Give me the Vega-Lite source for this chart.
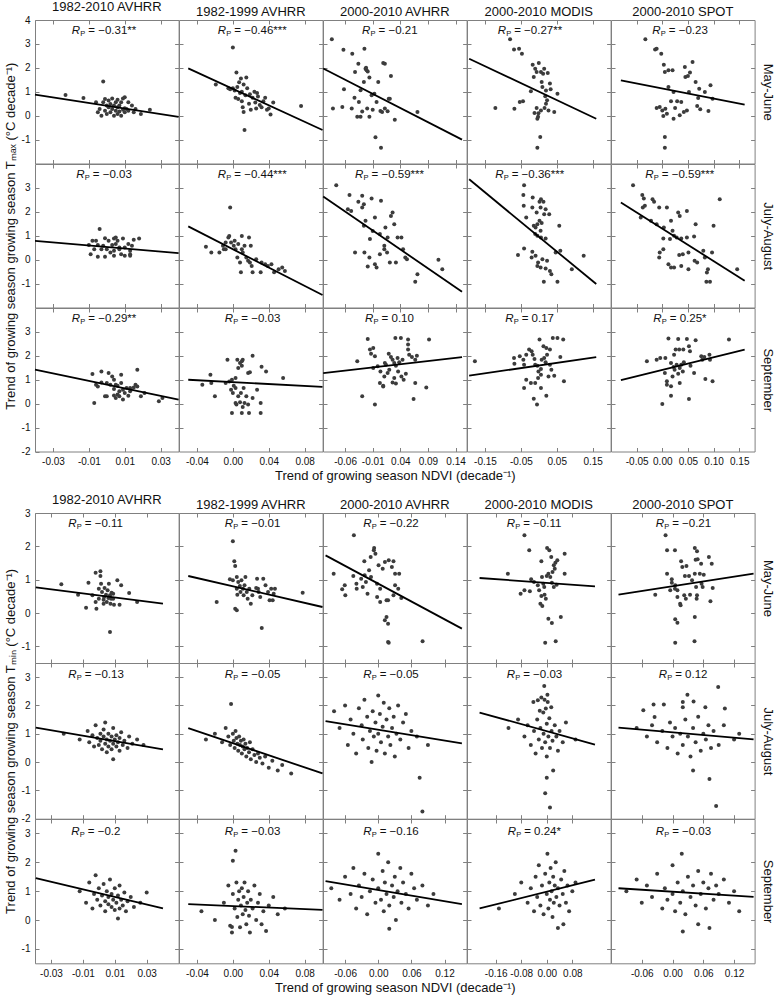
{
"$schema":"https://vega.github.io/schema/vega-lite/v6.json",
"padding":{"left":3,"top":0,"right":2,"bottom":2},
"background":"white",
"spacing":10,
"resolve":{"scale":{"x":"independent","y":"independent"}},
"vconcat":[
{"concat":[
{"data":{"name":"T11"},"width":143.6,"height":143.5,"title":"1982-2010 AVHRR","layer":[{"mark":"circle","encoding":{"x":{"field":"x","type":"quantitative","scale":{"domain":[-0.04,0.04]},"axis":{"values":[-0.03,-0.01,0.01,0.03],"labels":false,"title":null}},"y":{"field":"y","type":"quantitative","scale":{"domain":[-2,4]},"axis":{"values":[-1,0,1,2,3,4],"title":null}}}},{"mark":"rule","encoding":{"x":{"field":"x1","type":"quantitative","axis":{"orient":"top","values":[-0.03,-0.01,0.01,0.03],"labels":false,"title":null}},"x2":{"field":"x2"},"y":{"field":"y1","type":"quantitative","axis":{"orient":"right","values":[-1,0,1,2,3],"labels":false,"title":null}},"y2":{"field":"y2"}}},{"transform":[{"filter":"datum.r"}],"encoding":{"x":{"datum":0,"axis":null},"y":{"datum":3.55,"axis":null}},"layer":[{"mark":{"type":"text","style":"rr","text":"R","dx":-35}},{"mark":{"type":"text","style":"rp","text":"P","dx":-26.5}},{"mark":{"type":"text","style":"rv","dx":-18.5},"encoding":{"text":{"field":"r"}}}]}],"resolve":{"axis":{"x":"independent","y":"independent"}}},
{"data":{"name":"T12"},"width":143.6,"height":143.5,"title":"1982-1999 AVHRR","layer":[{"mark":"circle","encoding":{"x":{"field":"x","type":"quantitative","scale":{"domain":[-0.0497,0.0999]},"axis":{"values":[-0.04,0,0.04,0.08],"labels":false,"title":null}},"y":{"field":"y","type":"quantitative","scale":{"domain":[-2,4]},"axis":{"values":[-1,0,1,2,3],"labels":false,"title":null}}}},{"mark":"rule","encoding":{"x":{"field":"x1","type":"quantitative","axis":{"orient":"top","values":[-0.04,0,0.04,0.08],"labels":false,"title":null}},"x2":{"field":"x2"},"y":{"field":"y1","type":"quantitative","axis":{"orient":"right","values":[-1,0,1,2,3],"labels":false,"title":null}},"y2":{"field":"y2"}}},{"transform":[{"filter":"datum.r"}],"encoding":{"x":{"datum":0.025,"axis":null},"y":{"datum":3.55,"axis":null}},"layer":[{"mark":{"type":"text","style":"rr","text":"R","dx":-37.5}},{"mark":{"type":"text","style":"rp","text":"P","dx":-29}},{"mark":{"type":"text","style":"rv","dx":-21},"encoding":{"text":{"field":"r"}}}]}],"resolve":{"axis":{"x":"independent","y":"independent"}}},
{"data":{"name":"T13"},"width":143.6,"height":143.5,"title":"2000-2010 AVHRR","layer":[{"mark":"circle","encoding":{"x":{"field":"x","type":"quantitative","scale":{"domain":[-0.0996,0.1517]},"axis":{"values":[-0.06,-0.01,0.04,0.09,0.14],"labels":false,"title":null}},"y":{"field":"y","type":"quantitative","scale":{"domain":[-2,4]},"axis":{"values":[-1,0,1,2,3],"labels":false,"title":null}}}},{"mark":"rule","encoding":{"x":{"field":"x1","type":"quantitative","axis":{"orient":"top","values":[-0.06,-0.01,0.04,0.09,0.14],"labels":false,"title":null}},"x2":{"field":"x2"},"y":{"field":"y1","type":"quantitative","axis":{"orient":"right","values":[-1,0,1,2,3],"labels":false,"title":null}},"y2":{"field":"y2"}}},{"transform":[{"filter":"datum.r"}],"encoding":{"x":{"datum":0.026,"axis":null},"y":{"datum":3.55,"axis":null}},"layer":[{"mark":{"type":"text","style":"rr","text":"R","dx":-30.5}},{"mark":{"type":"text","style":"rp","text":"P","dx":-22}},{"mark":{"type":"text","style":"rv","dx":-14},"encoding":{"text":{"field":"r"}}}]}],"resolve":{"axis":{"x":"independent","y":"independent"}}},
{"data":{"name":"T14"},"width":143.6,"height":143.5,"title":"2000-2010 MODIS","layer":[{"mark":"circle","encoding":{"x":{"field":"x","type":"quantitative","scale":{"domain":[-0.194,0.16]},"axis":{"values":[-0.15,-0.05,0.05,0.15],"labels":false,"title":null}},"y":{"field":"y","type":"quantitative","scale":{"domain":[-2,4]},"axis":{"values":[-1,0,1,2,3],"labels":false,"title":null}}}},{"mark":"rule","encoding":{"x":{"field":"x1","type":"quantitative","axis":{"orient":"top","values":[-0.15,-0.05,0.05,0.15],"labels":false,"title":null}},"x2":{"field":"x2"},"y":{"field":"y1","type":"quantitative","axis":{"orient":"right","values":[-1,0,1,2,3],"labels":false,"title":null}},"y2":{"field":"y2"}}},{"transform":[{"filter":"datum.r"}],"encoding":{"x":{"datum":-0.017,"axis":null},"y":{"datum":3.55,"axis":null}},"layer":[{"mark":{"type":"text","style":"rr","text":"R","dx":-35}},{"mark":{"type":"text","style":"rp","text":"P","dx":-26.5}},{"mark":{"type":"text","style":"rv","dx":-18.5},"encoding":{"text":{"field":"r"}}}]}],"resolve":{"axis":{"x":"independent","y":"independent"}}},
{"data":{"name":"T15"},"width":143.6,"height":143.5,"title":"2000-2010 SPOT","layer":[{"mark":"circle","encoding":{"x":{"field":"x","type":"quantitative","scale":{"domain":[-0.0807,0.1606]},"axis":{"values":[-0.05,0,0.05,0.1,0.15],"labels":false,"title":null}},"y":{"field":"y","type":"quantitative","scale":{"domain":[-2,4]},"axis":{"values":[-1,0,1,2,3],"labels":false,"title":null}}}},{"mark":"rule","encoding":{"x":{"field":"x1","type":"quantitative","axis":{"orient":"top","values":[-0.05,0,0.05,0.1,0.15],"labels":false,"title":null}},"x2":{"field":"x2"},"y":{"field":"y1","type":"quantitative","axis":{"orient":"right","values":[-1,0,1,2,3],"labels":false,"title":"May-June","titlePadding":5}},"y2":{"field":"y2"}}},{"transform":[{"filter":"datum.r"}],"encoding":{"x":{"datum":0.04,"axis":null},"y":{"datum":3.55,"axis":null}},"layer":[{"mark":{"type":"text","style":"rr","text":"R","dx":-30.5}},{"mark":{"type":"text","style":"rp","text":"P","dx":-22}},{"mark":{"type":"text","style":"rv","dx":-14},"encoding":{"text":{"field":"r"}}}]}],"resolve":{"axis":{"x":"independent","y":"independent"}}},

{"data":{"name":"T21"},"width":143.6,"height":143.5,"layer":[{"mark":"circle","encoding":{"x":{"field":"x","type":"quantitative","scale":{"domain":[-0.04,0.04]},"axis":{"values":[-0.03,-0.01,0.01,0.03],"labels":false,"title":null}},"y":{"field":"y","type":"quantitative","scale":{"domain":[-2,4]},"axis":{"values":[-1,0,1,2,3],"title":"Trend of growing season growing season Tₘₐₓ (°C decade⁻¹)","titlePadding":4}}}},{"mark":"rule","encoding":{"x":{"field":"x1","type":"quantitative","axis":{"orient":"top","values":[-0.03,-0.01,0.01,0.03],"labels":false,"title":null}},"x2":{"field":"x2"},"y":{"field":"y1","type":"quantitative","axis":{"orient":"right","values":[-1,0,1,2,3],"labels":false,"title":null}},"y2":{"field":"y2"}}},{"transform":[{"filter":"datum.r"}],"encoding":{"x":{"datum":0,"axis":null},"y":{"datum":3.55,"axis":null}},"layer":[{"mark":{"type":"text","style":"rr","text":"R","dx":-30.5}},{"mark":{"type":"text","style":"rp","text":"P","dx":-22}},{"mark":{"type":"text","style":"rv","dx":-14},"encoding":{"text":{"field":"r"}}}]}],"resolve":{"axis":{"x":"independent","y":"independent"}}},
{"data":{"name":"T22"},"width":143.6,"height":143.5,"layer":[{"mark":"circle","encoding":{"x":{"field":"x","type":"quantitative","scale":{"domain":[-0.0497,0.0999]},"axis":{"values":[-0.04,0,0.04,0.08],"labels":false,"title":null}},"y":{"field":"y","type":"quantitative","scale":{"domain":[-2,4]},"axis":{"values":[-1,0,1,2,3],"labels":false,"title":null}}}},{"mark":"rule","encoding":{"x":{"field":"x1","type":"quantitative","axis":{"orient":"top","values":[-0.04,0,0.04,0.08],"labels":false,"title":null}},"x2":{"field":"x2"},"y":{"field":"y1","type":"quantitative","axis":{"orient":"right","values":[-1,0,1,2,3],"labels":false,"title":null}},"y2":{"field":"y2"}}},{"transform":[{"filter":"datum.r"}],"encoding":{"x":{"datum":0.025,"axis":null},"y":{"datum":3.55,"axis":null}},"layer":[{"mark":{"type":"text","style":"rr","text":"R","dx":-37.5}},{"mark":{"type":"text","style":"rp","text":"P","dx":-29}},{"mark":{"type":"text","style":"rv","dx":-21},"encoding":{"text":{"field":"r"}}}]}],"resolve":{"axis":{"x":"independent","y":"independent"}}},
{"data":{"name":"T23"},"width":143.6,"height":143.5,"layer":[{"mark":"circle","encoding":{"x":{"field":"x","type":"quantitative","scale":{"domain":[-0.0996,0.1517]},"axis":{"values":[-0.06,-0.01,0.04,0.09,0.14],"labels":false,"title":null}},"y":{"field":"y","type":"quantitative","scale":{"domain":[-2,4]},"axis":{"values":[-1,0,1,2,3],"labels":false,"title":null}}}},{"mark":"rule","encoding":{"x":{"field":"x1","type":"quantitative","axis":{"orient":"top","values":[-0.06,-0.01,0.04,0.09,0.14],"labels":false,"title":null}},"x2":{"field":"x2"},"y":{"field":"y1","type":"quantitative","axis":{"orient":"right","values":[-1,0,1,2,3],"labels":false,"title":null}},"y2":{"field":"y2"}}},{"transform":[{"filter":"datum.r"}],"encoding":{"x":{"datum":0.026,"axis":null},"y":{"datum":3.55,"axis":null}},"layer":[{"mark":{"type":"text","style":"rr","text":"R","dx":-37.5}},{"mark":{"type":"text","style":"rp","text":"P","dx":-29}},{"mark":{"type":"text","style":"rv","dx":-21},"encoding":{"text":{"field":"r"}}}]}],"resolve":{"axis":{"x":"independent","y":"independent"}}},
{"data":{"name":"T24"},"width":143.6,"height":143.5,"layer":[{"mark":"circle","encoding":{"x":{"field":"x","type":"quantitative","scale":{"domain":[-0.194,0.16]},"axis":{"values":[-0.15,-0.05,0.05,0.15],"labels":false,"title":null}},"y":{"field":"y","type":"quantitative","scale":{"domain":[-2,4]},"axis":{"values":[-1,0,1,2,3],"labels":false,"title":null}}}},{"mark":"rule","encoding":{"x":{"field":"x1","type":"quantitative","axis":{"orient":"top","values":[-0.15,-0.05,0.05,0.15],"labels":false,"title":null}},"x2":{"field":"x2"},"y":{"field":"y1","type":"quantitative","axis":{"orient":"right","values":[-1,0,1,2,3],"labels":false,"title":null}},"y2":{"field":"y2"}}},{"transform":[{"filter":"datum.r"}],"encoding":{"x":{"datum":-0.017,"axis":null},"y":{"datum":3.55,"axis":null}},"layer":[{"mark":{"type":"text","style":"rr","text":"R","dx":-37.5}},{"mark":{"type":"text","style":"rp","text":"P","dx":-29}},{"mark":{"type":"text","style":"rv","dx":-21},"encoding":{"text":{"field":"r"}}}]}],"resolve":{"axis":{"x":"independent","y":"independent"}}},
{"data":{"name":"T25"},"width":143.6,"height":143.5,"layer":[{"mark":"circle","encoding":{"x":{"field":"x","type":"quantitative","scale":{"domain":[-0.0807,0.1606]},"axis":{"values":[-0.05,0,0.05,0.1,0.15],"labels":false,"title":null}},"y":{"field":"y","type":"quantitative","scale":{"domain":[-2,4]},"axis":{"values":[-1,0,1,2,3],"labels":false,"title":null}}}},{"mark":"rule","encoding":{"x":{"field":"x1","type":"quantitative","axis":{"orient":"top","values":[-0.05,0,0.05,0.1,0.15],"labels":false,"title":null}},"x2":{"field":"x2"},"y":{"field":"y1","type":"quantitative","axis":{"orient":"right","values":[-1,0,1,2,3],"labels":false,"title":"July-August","titlePadding":5}},"y2":{"field":"y2"}}},{"transform":[{"filter":"datum.r"}],"encoding":{"x":{"datum":0.04,"axis":null},"y":{"datum":3.55,"axis":null}},"layer":[{"mark":{"type":"text","style":"rr","text":"R","dx":-37.5}},{"mark":{"type":"text","style":"rp","text":"P","dx":-29}},{"mark":{"type":"text","style":"rv","dx":-21},"encoding":{"text":{"field":"r"}}}]}],"resolve":{"axis":{"x":"independent","y":"independent"}}},

{"data":{"name":"T31"},"width":143.6,"height":143.5,"layer":[{"mark":"circle","encoding":{"x":{"field":"x","type":"quantitative","scale":{"domain":[-0.04,0.04]},"axis":{"values":[-0.03,-0.01,0.01,0.03],"title":null}},"y":{"field":"y","type":"quantitative","scale":{"domain":[-2,4]},"axis":{"values":[-2,-1,0,1,2,3],"title":null}}}},{"mark":"rule","encoding":{"x":{"field":"x1","type":"quantitative","axis":{"orient":"top","values":[-0.03,-0.01,0.01,0.03],"labels":false,"title":null}},"x2":{"field":"x2"},"y":{"field":"y1","type":"quantitative","axis":{"orient":"right","values":[-1,0,1,2,3],"labels":false,"title":null}},"y2":{"field":"y2"}}},{"transform":[{"filter":"datum.r"}],"encoding":{"x":{"datum":0,"axis":null},"y":{"datum":3.55,"axis":null}},"layer":[{"mark":{"type":"text","style":"rr","text":"R","dx":-35}},{"mark":{"type":"text","style":"rp","text":"P","dx":-26.5}},{"mark":{"type":"text","style":"rv","dx":-18.5},"encoding":{"text":{"field":"r"}}}]}],"resolve":{"axis":{"x":"independent","y":"independent"}}},
{"data":{"name":"T32"},"width":143.6,"height":143.5,"layer":[{"mark":"circle","encoding":{"x":{"field":"x","type":"quantitative","scale":{"domain":[-0.0497,0.0999]},"axis":{"values":[-0.04,0,0.04,0.08],"title":null}},"y":{"field":"y","type":"quantitative","scale":{"domain":[-2,4]},"axis":{"values":[-1,0,1,2,3],"labels":false,"title":null}}}},{"mark":"rule","encoding":{"x":{"field":"x1","type":"quantitative","axis":{"orient":"top","values":[-0.04,0,0.04,0.08],"labels":false,"title":null}},"x2":{"field":"x2"},"y":{"field":"y1","type":"quantitative","axis":{"orient":"right","values":[-1,0,1,2,3],"labels":false,"title":null}},"y2":{"field":"y2"}}},{"transform":[{"filter":"datum.r"}],"encoding":{"x":{"datum":0.025,"axis":null},"y":{"datum":3.55,"axis":null}},"layer":[{"mark":{"type":"text","style":"rr","text":"R","dx":-30.5}},{"mark":{"type":"text","style":"rp","text":"P","dx":-22}},{"mark":{"type":"text","style":"rv","dx":-14},"encoding":{"text":{"field":"r"}}}]}],"resolve":{"axis":{"x":"independent","y":"independent"}}},
{"data":{"name":"T33"},"width":143.6,"height":143.5,"layer":[{"mark":"circle","encoding":{"x":{"field":"x","type":"quantitative","scale":{"domain":[-0.0996,0.1517]},"axis":{"values":[-0.06,-0.01,0.04,0.09,0.14],"title":"Trend of growing season NDVI (decade⁻¹)","titlePadding":3}},"y":{"field":"y","type":"quantitative","scale":{"domain":[-2,4]},"axis":{"values":[-1,0,1,2,3],"labels":false,"title":null}}}},{"mark":"rule","encoding":{"x":{"field":"x1","type":"quantitative","axis":{"orient":"top","values":[-0.06,-0.01,0.04,0.09,0.14],"labels":false,"title":null}},"x2":{"field":"x2"},"y":{"field":"y1","type":"quantitative","axis":{"orient":"right","values":[-1,0,1,2,3],"labels":false,"title":null}},"y2":{"field":"y2"}}},{"transform":[{"filter":"datum.r"}],"encoding":{"x":{"datum":0.026,"axis":null},"y":{"datum":3.55,"axis":null}},"layer":[{"mark":{"type":"text","style":"rr","text":"R","dx":-27.5}},{"mark":{"type":"text","style":"rp","text":"P","dx":-19}},{"mark":{"type":"text","style":"rv","dx":-11},"encoding":{"text":{"field":"r"}}}]}],"resolve":{"axis":{"x":"independent","y":"independent"}}},
{"data":{"name":"T34"},"width":143.6,"height":143.5,"layer":[{"mark":"circle","encoding":{"x":{"field":"x","type":"quantitative","scale":{"domain":[-0.194,0.16]},"axis":{"values":[-0.15,-0.05,0.05,0.15],"title":null}},"y":{"field":"y","type":"quantitative","scale":{"domain":[-2,4]},"axis":{"values":[-1,0,1,2,3],"labels":false,"title":null}}}},{"mark":"rule","encoding":{"x":{"field":"x1","type":"quantitative","axis":{"orient":"top","values":[-0.15,-0.05,0.05,0.15],"labels":false,"title":null}},"x2":{"field":"x2"},"y":{"field":"y1","type":"quantitative","axis":{"orient":"right","values":[-1,0,1,2,3],"labels":false,"title":null}},"y2":{"field":"y2"}}},{"transform":[{"filter":"datum.r"}],"encoding":{"x":{"datum":-0.017,"axis":null},"y":{"datum":3.55,"axis":null}},"layer":[{"mark":{"type":"text","style":"rr","text":"R","dx":-27.5}},{"mark":{"type":"text","style":"rp","text":"P","dx":-19}},{"mark":{"type":"text","style":"rv","dx":-11},"encoding":{"text":{"field":"r"}}}]}],"resolve":{"axis":{"x":"independent","y":"independent"}}},
{"data":{"name":"T35"},"width":143.6,"height":143.5,"layer":[{"mark":"circle","encoding":{"x":{"field":"x","type":"quantitative","scale":{"domain":[-0.0807,0.1606]},"axis":{"values":[-0.05,0,0.05,0.1,0.15],"title":null}},"y":{"field":"y","type":"quantitative","scale":{"domain":[-2,4]},"axis":{"values":[-1,0,1,2,3],"labels":false,"title":null}}}},{"mark":"rule","encoding":{"x":{"field":"x1","type":"quantitative","axis":{"orient":"top","values":[-0.05,0,0.05,0.1,0.15],"labels":false,"title":null}},"x2":{"field":"x2"},"y":{"field":"y1","type":"quantitative","axis":{"orient":"right","values":[-1,0,1,2,3],"labels":false,"title":"September","titlePadding":5}},"y2":{"field":"y2"}}},{"transform":[{"filter":"datum.r"}],"encoding":{"x":{"datum":0.04,"axis":null},"y":{"datum":3.55,"axis":null}},"layer":[{"mark":{"type":"text","style":"rr","text":"R","dx":-29.5}},{"mark":{"type":"text","style":"rp","text":"P","dx":-21}},{"mark":{"type":"text","style":"rv","dx":-13},"encoding":{"text":{"field":"r"}}}]}],"resolve":{"axis":{"x":"independent","y":"independent"}}}
],"columns":5,"spacing":0,"bounds":"flush","align":"each","resolve":{"scale":{"x":"independent","y":"independent"}}},

{"concat":[
{"data":{"name":"B11"},"width":143.6,"height":150,"title":"1982-2010 AVHRR","layer":[{"mark":"circle","encoding":{"x":{"field":"x","type":"quantitative","scale":{"domain":[-0.0395,0.0402]},"axis":{"values":[-0.03,-0.01,0.01,0.03],"labels":false,"title":null}},"y":{"field":"y","type":"quantitative","scale":{"domain":[-1.5,3]},"axis":{"values":[-1,0,1,2,3],"title":null}}}},{"mark":"rule","encoding":{"x":{"field":"x1","type":"quantitative","axis":{"orient":"top","values":[-0.03,-0.01,0.01,0.03],"labels":false,"title":null}},"x2":{"field":"x2"},"y":{"field":"y1","type":"quantitative","axis":{"orient":"right","values":[-1,0,1,2,3],"labels":false,"title":null}},"y2":{"field":"y2"}}},{"transform":[{"filter":"datum.r"}],"encoding":{"x":{"datum":0,"axis":null},"y":{"datum":2.68,"axis":null}},"layer":[{"mark":{"type":"text","style":"rr","text":"R","dx":-30.5}},{"mark":{"type":"text","style":"rp","text":"P","dx":-22}},{"mark":{"type":"text","style":"rv","dx":-14},"encoding":{"text":{"field":"r"}}}]}],"resolve":{"axis":{"x":"independent","y":"independent"}}},
{"data":{"name":"B12"},"width":143.6,"height":150,"title":"1982-1999 AVHRR","layer":[{"mark":"circle","encoding":{"x":{"field":"x","type":"quantitative","scale":{"domain":[-0.0497,0.0999]},"axis":{"values":[-0.04,0,0.04,0.08],"labels":false,"title":null}},"y":{"field":"y","type":"quantitative","scale":{"domain":[-1.5,3]},"axis":{"values":[-1,0,1,2,3],"labels":false,"title":null}}}},{"mark":"rule","encoding":{"x":{"field":"x1","type":"quantitative","axis":{"orient":"top","values":[-0.04,0,0.04,0.08],"labels":false,"title":null}},"x2":{"field":"x2"},"y":{"field":"y1","type":"quantitative","axis":{"orient":"right","values":[-1,0,1,2,3],"labels":false,"title":null}},"y2":{"field":"y2"}}},{"transform":[{"filter":"datum.r"}],"encoding":{"x":{"datum":0.025,"axis":null},"y":{"datum":2.68,"axis":null}},"layer":[{"mark":{"type":"text","style":"rr","text":"R","dx":-30.5}},{"mark":{"type":"text","style":"rp","text":"P","dx":-22}},{"mark":{"type":"text","style":"rv","dx":-14},"encoding":{"text":{"field":"r"}}}]}],"resolve":{"axis":{"x":"independent","y":"independent"}}},
{"data":{"name":"B13"},"width":143.6,"height":150,"title":"2000-2010 AVHRR","layer":[{"mark":"circle","encoding":{"x":{"field":"x","type":"quantitative","scale":{"domain":[-0.0954,0.1515]},"axis":{"values":[-0.06,0,0.06,0.12],"labels":false,"title":null}},"y":{"field":"y","type":"quantitative","scale":{"domain":[-1.5,3]},"axis":{"values":[-1,0,1,2,3],"labels":false,"title":null}}}},{"mark":"rule","encoding":{"x":{"field":"x1","type":"quantitative","axis":{"orient":"top","values":[-0.06,0,0.06,0.12],"labels":false,"title":null}},"x2":{"field":"x2"},"y":{"field":"y1","type":"quantitative","axis":{"orient":"right","values":[-1,0,1,2,3],"labels":false,"title":null}},"y2":{"field":"y2"}}},{"transform":[{"filter":"datum.r"}],"encoding":{"x":{"datum":0.028,"axis":null},"y":{"datum":2.68,"axis":null}},"layer":[{"mark":{"type":"text","style":"rr","text":"R","dx":-30.5}},{"mark":{"type":"text","style":"rp","text":"P","dx":-22}},{"mark":{"type":"text","style":"rv","dx":-14},"encoding":{"text":{"field":"r"}}}]}],"resolve":{"axis":{"x":"independent","y":"independent"}}},
{"data":{"name":"B14"},"width":143.6,"height":150,"title":"2000-2010 MODIS","layer":[{"mark":"circle","encoding":{"x":{"field":"x","type":"quantitative","scale":{"domain":[-0.2106,0.151]},"axis":{"values":[-0.16,-0.08,0,0.08],"labels":false,"title":null}},"y":{"field":"y","type":"quantitative","scale":{"domain":[-1.5,3]},"axis":{"values":[-1,0,1,2,3],"labels":false,"title":null}}}},{"mark":"rule","encoding":{"x":{"field":"x1","type":"quantitative","axis":{"orient":"top","values":[-0.16,-0.08,0,0.08],"labels":false,"title":null}},"x2":{"field":"x2"},"y":{"field":"y1","type":"quantitative","axis":{"orient":"right","values":[-1,0,1,2,3],"labels":false,"title":null}},"y2":{"field":"y2"}}},{"transform":[{"filter":"datum.r"}],"encoding":{"x":{"datum":-0.03,"axis":null},"y":{"datum":2.68,"axis":null}},"layer":[{"mark":{"type":"text","style":"rr","text":"R","dx":-30.5}},{"mark":{"type":"text","style":"rp","text":"P","dx":-22}},{"mark":{"type":"text","style":"rv","dx":-14},"encoding":{"text":{"field":"r"}}}]}],"resolve":{"axis":{"x":"independent","y":"independent"}}},
{"data":{"name":"B15"},"width":143.6,"height":150,"title":"2000-2010 SPOT","layer":[{"mark":"circle","encoding":{"x":{"field":"x","type":"quantitative","scale":{"domain":[-0.1054,0.158]},"axis":{"values":[-0.06,0,0.06,0.12],"labels":false,"title":null}},"y":{"field":"y","type":"quantitative","scale":{"domain":[-1.5,3]},"axis":{"values":[-1,0,1,2,3],"labels":false,"title":null}}}},{"mark":"rule","encoding":{"x":{"field":"x1","type":"quantitative","axis":{"orient":"top","values":[-0.06,0,0.06,0.12],"labels":false,"title":null}},"x2":{"field":"x2"},"y":{"field":"y1","type":"quantitative","axis":{"orient":"right","values":[-1,0,1,2,3],"labels":false,"title":"May-June","titlePadding":5}},"y2":{"field":"y2"}}},{"transform":[{"filter":"datum.r"}],"encoding":{"x":{"datum":0.0265,"axis":null},"y":{"datum":2.68,"axis":null}},"layer":[{"mark":{"type":"text","style":"rr","text":"R","dx":-30.5}},{"mark":{"type":"text","style":"rp","text":"P","dx":-22}},{"mark":{"type":"text","style":"rv","dx":-14},"encoding":{"text":{"field":"r"}}}]}],"resolve":{"axis":{"x":"independent","y":"independent"}}},

{"data":{"name":"B21"},"width":143.6,"height":155.7,"layer":[{"mark":"circle","encoding":{"x":{"field":"x","type":"quantitative","scale":{"domain":[-0.0395,0.0402]},"axis":{"values":[-0.03,-0.01,0.01,0.03],"labels":false,"title":null}},"y":{"field":"y","type":"quantitative","scale":{"domain":[-2,3.5]},"axis":{"values":[-2,-1,0,1,2,3],"title":"Trend of growing season growing season Tₘᵢₙ (°C decade⁻¹)","titlePadding":4}}}},{"mark":"rule","encoding":{"x":{"field":"x1","type":"quantitative","axis":{"orient":"top","values":[-0.03,-0.01,0.01,0.03],"labels":false,"title":null}},"x2":{"field":"x2"},"y":{"field":"y1","type":"quantitative","axis":{"orient":"right","values":[-1,0,1,2,3],"labels":false,"title":null}},"y2":{"field":"y2"}}},{"transform":[{"filter":"datum.r"}],"encoding":{"x":{"datum":0,"axis":null},"y":{"datum":3.06,"axis":null}},"layer":[{"mark":{"type":"text","style":"rr","text":"R","dx":-30.5}},{"mark":{"type":"text","style":"rp","text":"P","dx":-22}},{"mark":{"type":"text","style":"rv","dx":-14},"encoding":{"text":{"field":"r"}}}]}],"resolve":{"axis":{"x":"independent","y":"independent"}}},
{"data":{"name":"B22"},"width":143.6,"height":155.7,"layer":[{"mark":"circle","encoding":{"x":{"field":"x","type":"quantitative","scale":{"domain":[-0.0497,0.0999]},"axis":{"values":[-0.04,0,0.04,0.08],"labels":false,"title":null}},"y":{"field":"y","type":"quantitative","scale":{"domain":[-2,3.5]},"axis":{"values":[-1,0,1,2,3],"labels":false,"title":null}}}},{"mark":"rule","encoding":{"x":{"field":"x1","type":"quantitative","axis":{"orient":"top","values":[-0.04,0,0.04,0.08],"labels":false,"title":null}},"x2":{"field":"x2"},"y":{"field":"y1","type":"quantitative","axis":{"orient":"right","values":[-1,0,1,2,3],"labels":false,"title":null}},"y2":{"field":"y2"}}},{"transform":[{"filter":"datum.r"}],"encoding":{"x":{"datum":0.025,"axis":null},"y":{"datum":3.06,"axis":null}},"layer":[{"mark":{"type":"text","style":"rr","text":"R","dx":-30.5}},{"mark":{"type":"text","style":"rp","text":"P","dx":-22}},{"mark":{"type":"text","style":"rv","dx":-14},"encoding":{"text":{"field":"r"}}}]}],"resolve":{"axis":{"x":"independent","y":"independent"}}},
{"data":{"name":"B23"},"width":143.6,"height":155.7,"layer":[{"mark":"circle","encoding":{"x":{"field":"x","type":"quantitative","scale":{"domain":[-0.0954,0.1515]},"axis":{"values":[-0.06,0,0.06,0.12],"labels":false,"title":null}},"y":{"field":"y","type":"quantitative","scale":{"domain":[-2,3.5]},"axis":{"values":[-1,0,1,2,3],"labels":false,"title":null}}}},{"mark":"rule","encoding":{"x":{"field":"x1","type":"quantitative","axis":{"orient":"top","values":[-0.06,0,0.06,0.12],"labels":false,"title":null}},"x2":{"field":"x2"},"y":{"field":"y1","type":"quantitative","axis":{"orient":"right","values":[-1,0,1,2,3],"labels":false,"title":null}},"y2":{"field":"y2"}}},{"transform":[{"filter":"datum.r"}],"encoding":{"x":{"datum":0.028,"axis":null},"y":{"datum":3.06,"axis":null}},"layer":[{"mark":{"type":"text","style":"rr","text":"R","dx":-30.5}},{"mark":{"type":"text","style":"rp","text":"P","dx":-22}},{"mark":{"type":"text","style":"rv","dx":-14},"encoding":{"text":{"field":"r"}}}]}],"resolve":{"axis":{"x":"independent","y":"independent"}}},
{"data":{"name":"B24"},"width":143.6,"height":155.7,"layer":[{"mark":"circle","encoding":{"x":{"field":"x","type":"quantitative","scale":{"domain":[-0.2106,0.151]},"axis":{"values":[-0.16,-0.08,0,0.08],"labels":false,"title":null}},"y":{"field":"y","type":"quantitative","scale":{"domain":[-2,3.5]},"axis":{"values":[-1,0,1,2,3],"labels":false,"title":null}}}},{"mark":"rule","encoding":{"x":{"field":"x1","type":"quantitative","axis":{"orient":"top","values":[-0.16,-0.08,0,0.08],"labels":false,"title":null}},"x2":{"field":"x2"},"y":{"field":"y1","type":"quantitative","axis":{"orient":"right","values":[-1,0,1,2,3],"labels":false,"title":null}},"y2":{"field":"y2"}}},{"transform":[{"filter":"datum.r"}],"encoding":{"x":{"datum":-0.03,"axis":null},"y":{"datum":3.06,"axis":null}},"layer":[{"mark":{"type":"text","style":"rr","text":"R","dx":-30.5}},{"mark":{"type":"text","style":"rp","text":"P","dx":-22}},{"mark":{"type":"text","style":"rv","dx":-14},"encoding":{"text":{"field":"r"}}}]}],"resolve":{"axis":{"x":"independent","y":"independent"}}},
{"data":{"name":"B25"},"width":143.6,"height":155.7,"layer":[{"mark":"circle","encoding":{"x":{"field":"x","type":"quantitative","scale":{"domain":[-0.1054,0.158]},"axis":{"values":[-0.06,0,0.06,0.12],"labels":false,"title":null}},"y":{"field":"y","type":"quantitative","scale":{"domain":[-2,3.5]},"axis":{"values":[-1,0,1,2,3],"labels":false,"title":null}}}},{"mark":"rule","encoding":{"x":{"field":"x1","type":"quantitative","axis":{"orient":"top","values":[-0.06,0,0.06,0.12],"labels":false,"title":null}},"x2":{"field":"x2"},"y":{"field":"y1","type":"quantitative","axis":{"orient":"right","values":[-1,0,1,2,3],"labels":false,"title":"July-August","titlePadding":5}},"y2":{"field":"y2"}}},{"transform":[{"filter":"datum.r"}],"encoding":{"x":{"datum":0.0265,"axis":null},"y":{"datum":3.06,"axis":null}},"layer":[{"mark":{"type":"text","style":"rr","text":"R","dx":-27.5}},{"mark":{"type":"text","style":"rp","text":"P","dx":-19}},{"mark":{"type":"text","style":"rv","dx":-11},"encoding":{"text":{"field":"r"}}}]}],"resolve":{"axis":{"x":"independent","y":"independent"}}},

{"data":{"name":"B31"},"width":143.6,"height":144.3,"layer":[{"mark":"circle","encoding":{"x":{"field":"x","type":"quantitative","scale":{"domain":[-0.0395,0.0402]},"axis":{"values":[-0.03,-0.01,0.01,0.03],"title":null}},"y":{"field":"y","type":"quantitative","scale":{"domain":[-1.5,3.5]},"axis":{"values":[-1,0,1,2,3],"title":null}}}},{"mark":"rule","encoding":{"x":{"field":"x1","type":"quantitative","axis":{"orient":"top","values":[-0.03,-0.01,0.01,0.03],"labels":false,"title":null}},"x2":{"field":"x2"},"y":{"field":"y1","type":"quantitative","axis":{"orient":"right","values":[-1,0,1,2,3],"labels":false,"title":null}},"y2":{"field":"y2"}}},{"transform":[{"filter":"datum.r"}],"encoding":{"x":{"datum":0,"axis":null},"y":{"datum":3.06,"axis":null}},"layer":[{"mark":{"type":"text","style":"rr","text":"R","dx":-27.5}},{"mark":{"type":"text","style":"rp","text":"P","dx":-19}},{"mark":{"type":"text","style":"rv","dx":-11},"encoding":{"text":{"field":"r"}}}]}],"resolve":{"axis":{"x":"independent","y":"independent"}}},
{"data":{"name":"B32"},"width":143.6,"height":144.3,"layer":[{"mark":"circle","encoding":{"x":{"field":"x","type":"quantitative","scale":{"domain":[-0.0497,0.0999]},"axis":{"values":[-0.04,0,0.04,0.08],"title":null}},"y":{"field":"y","type":"quantitative","scale":{"domain":[-1.5,3.5]},"axis":{"values":[-1,0,1,2,3],"labels":false,"title":null}}}},{"mark":"rule","encoding":{"x":{"field":"x1","type":"quantitative","axis":{"orient":"top","values":[-0.04,0,0.04,0.08],"labels":false,"title":null}},"x2":{"field":"x2"},"y":{"field":"y1","type":"quantitative","axis":{"orient":"right","values":[-1,0,1,2,3],"labels":false,"title":null}},"y2":{"field":"y2"}}},{"transform":[{"filter":"datum.r"}],"encoding":{"x":{"datum":0.025,"axis":null},"y":{"datum":3.06,"axis":null}},"layer":[{"mark":{"type":"text","style":"rr","text":"R","dx":-30.5}},{"mark":{"type":"text","style":"rp","text":"P","dx":-22}},{"mark":{"type":"text","style":"rv","dx":-14},"encoding":{"text":{"field":"r"}}}]}],"resolve":{"axis":{"x":"independent","y":"independent"}}},
{"data":{"name":"B33"},"width":143.6,"height":144.3,"layer":[{"mark":"circle","encoding":{"x":{"field":"x","type":"quantitative","scale":{"domain":[-0.0954,0.1515]},"axis":{"values":[-0.06,0,0.06,0.12],"title":"Trend of growing season NDVI (decade⁻¹)","titlePadding":3}},"y":{"field":"y","type":"quantitative","scale":{"domain":[-1.5,3.5]},"axis":{"values":[-1,0,1,2,3],"labels":false,"title":null}}}},{"mark":"rule","encoding":{"x":{"field":"x1","type":"quantitative","axis":{"orient":"top","values":[-0.06,0,0.06,0.12],"labels":false,"title":null}},"x2":{"field":"x2"},"y":{"field":"y1","type":"quantitative","axis":{"orient":"right","values":[-1,0,1,2,3],"labels":false,"title":null}},"y2":{"field":"y2"}}},{"transform":[{"filter":"datum.r"}],"encoding":{"x":{"datum":0.028,"axis":null},"y":{"datum":3.06,"axis":null}},"layer":[{"mark":{"type":"text","style":"rr","text":"R","dx":-30.5}},{"mark":{"type":"text","style":"rp","text":"P","dx":-22}},{"mark":{"type":"text","style":"rv","dx":-14},"encoding":{"text":{"field":"r"}}}]}],"resolve":{"axis":{"x":"independent","y":"independent"}}},
{"data":{"name":"B34"},"width":143.6,"height":144.3,"layer":[{"mark":"circle","encoding":{"x":{"field":"x","type":"quantitative","scale":{"domain":[-0.2106,0.151]},"axis":{"values":[-0.16,-0.08,0,0.08],"title":null}},"y":{"field":"y","type":"quantitative","scale":{"domain":[-1.5,3.5]},"axis":{"values":[-1,0,1,2,3],"labels":false,"title":null}}}},{"mark":"rule","encoding":{"x":{"field":"x1","type":"quantitative","axis":{"orient":"top","values":[-0.16,-0.08,0,0.08],"labels":false,"title":null}},"x2":{"field":"x2"},"y":{"field":"y1","type":"quantitative","axis":{"orient":"right","values":[-1,0,1,2,3],"labels":false,"title":null}},"y2":{"field":"y2"}}},{"transform":[{"filter":"datum.r"}],"encoding":{"x":{"datum":-0.03,"axis":null},"y":{"datum":3.06,"axis":null}},"layer":[{"mark":{"type":"text","style":"rr","text":"R","dx":-29.5}},{"mark":{"type":"text","style":"rp","text":"P","dx":-21}},{"mark":{"type":"text","style":"rv","dx":-13},"encoding":{"text":{"field":"r"}}}]}],"resolve":{"axis":{"x":"independent","y":"independent"}}},
{"data":{"name":"B35"},"width":143.6,"height":144.3,"layer":[{"mark":"circle","encoding":{"x":{"field":"x","type":"quantitative","scale":{"domain":[-0.1054,0.158]},"axis":{"values":[-0.06,0,0.06,0.12],"title":null}},"y":{"field":"y","type":"quantitative","scale":{"domain":[-1.5,3.5]},"axis":{"values":[-1,0,1,2,3],"labels":false,"title":null}}}},{"mark":"rule","encoding":{"x":{"field":"x1","type":"quantitative","axis":{"orient":"top","values":[-0.06,0,0.06,0.12],"labels":false,"title":null}},"x2":{"field":"x2"},"y":{"field":"y1","type":"quantitative","axis":{"orient":"right","values":[-1,0,1,2,3],"labels":false,"title":"September","titlePadding":5}},"y2":{"field":"y2"}}},{"transform":[{"filter":"datum.r"}],"encoding":{"x":{"datum":0.0265,"axis":null},"y":{"datum":3.06,"axis":null}},"layer":[{"mark":{"type":"text","style":"rr","text":"R","dx":-30.5}},{"mark":{"type":"text","style":"rp","text":"P","dx":-22}},{"mark":{"type":"text","style":"rv","dx":-14},"encoding":{"text":{"field":"r"}}}]}],"resolve":{"axis":{"x":"independent","y":"independent"}}}
],"columns":5,"spacing":0,"bounds":"flush","align":"each","resolve":{"scale":{"x":"independent","y":"independent"}}}
],
"datasets":{
"T11":[{"x1":-0.04,"y1":0.88,"x2":0.04,"y2":-0.05,"r":"= −0.31**"},{"x":-0.023,"y":0.86},{"x":-0.013,"y":0.74},{"x":-0.006,"y":0.56},{"x":-0.002,"y":1.43},{"x":-0.005,"y":0.14},{"x":-0.004,"y":0.28},{"x":-0.003,"y":0.0},{"x":-0.002,"y":0.56},{"x":-0.001,"y":0.21},{"x":-0.001,"y":0.7},{"x":0.0,"y":0.42},{"x":0.0,"y":0.07},{"x":0.001,"y":0.35},{"x":0.001,"y":0.63},{"x":0.002,"y":0.14},{"x":0.002,"y":0.49},{"x":0.003,"y":0.28},{"x":0.003,"y":0.72},{"x":0.004,"y":0.0},{"x":0.004,"y":0.42},{"x":0.005,"y":0.21},{"x":0.005,"y":0.56},{"x":0.006,"y":0.07},{"x":0.006,"y":0.35},{"x":0.006,"y":0.67},{"x":0.007,"y":0.17},{"x":0.007,"y":0.42},{"x":0.008,"y":0.0},{"x":0.008,"y":0.56},{"x":0.009,"y":0.25},{"x":0.009,"y":0.72},{"x":0.01,"y":0.14},{"x":0.01,"y":0.31},{"x":0.01,"y":0.77},{"x":0.011,"y":0.28},{"x":0.012,"y":0.56},{"x":0.012,"y":0.21},{"x":0.014,"y":0.42},{"x":0.015,"y":0.14},{"x":0.016,"y":0.28},{"x":0.019,"y":0.07},{"x":0.024,"y":0.25}],
"T12":[{"x1":-0.0497,"y1":1.98,"x2":0.0999,"y2":-0.6,"r":"= −0.46***"},{"x":-0.019,"y":1.3},{"x":-0.005,"y":1.15},{"x":-0.003,"y":1.1},{"x":0.0,"y":2.85},{"x":0.0,"y":1.15},{"x":0.002,"y":1.05},{"x":0.003,"y":0.75},{"x":0.004,"y":1.8},{"x":0.005,"y":1.2},{"x":0.006,"y":0.7},{"x":0.007,"y":1.4},{"x":0.008,"y":0.95},{"x":0.009,"y":1.55},{"x":0.01,"y":1.0},{"x":0.01,"y":0.6},{"x":0.011,"y":0.35},{"x":0.012,"y":0.15},{"x":0.012,"y":1.3},{"x":0.013,"y":-0.6},{"x":0.014,"y":0.85},{"x":0.015,"y":1.6},{"x":0.016,"y":1.15},{"x":0.018,"y":0.5},{"x":0.019,"y":0.9},{"x":0.02,"y":0.25},{"x":0.022,"y":0.75},{"x":0.024,"y":1.0},{"x":0.025,"y":0.55},{"x":0.026,"y":0.3},{"x":0.027,"y":0.95},{"x":0.028,"y":0.8},{"x":0.03,"y":0.45},{"x":0.032,"y":0.35},{"x":0.034,"y":0.6},{"x":0.036,"y":0.75},{"x":0.038,"y":0.25},{"x":0.04,"y":0.3},{"x":0.042,"y":0.05},{"x":0.045,"y":0.55},{"x":0.076,"y":0.4}],
"T13":[{"x1":-0.0996,"y1":1.97,"x2":0.1517,"y2":-1.0,"r":"= −0.21"},{"x":-0.084,"y":3.19},{"x":-0.063,"y":2.76},{"x":-0.082,"y":0.3},{"x":-0.062,"y":1.1},{"x":-0.065,"y":0.36},{"x":-0.047,"y":2.59},{"x":-0.048,"y":0.3},{"x":-0.038,"y":-0.05},{"x":-0.032,"y":-0.05},{"x":-0.036,"y":2.17},{"x":-0.042,"y":1.83},{"x":-0.043,"y":0.75},{"x":-0.035,"y":0.57},{"x":-0.032,"y":1.06},{"x":-0.026,"y":1.41},{"x":-0.023,"y":1.96},{"x":-0.025,"y":2.8},{"x":-0.021,"y":1.9},{"x":-0.019,"y":1.85},{"x":-0.022,"y":2.0},{"x":-0.016,"y":1.6},{"x":-0.029,"y":0.17},{"x":-0.02,"y":0.3},{"x":-0.016,"y":-0.05},{"x":-0.005,"y":-0.9},{"x":0.005,"y":-1.34},{"x":-0.007,"y":0.92},{"x":-0.003,"y":0.57},{"x":0.007,"y":0.15},{"x":0.009,"y":2.2},{"x":0.012,"y":2.17},{"x":0.012,"y":0.3},{"x":0.0,"y":1.41},{"x":-0.012,"y":0.85},{"x":0.023,"y":1.66},{"x":0.019,"y":0.71},{"x":0.021,"y":0.71},{"x":0.017,"y":0.18},{"x":0.03,"y":-0.17},{"x":0.071,"y":0.15},{"x":0.004,"y":0.2},{"x":-0.01,"y":0.25}],
"T14":[{"x1":-0.194,"y1":2.38,"x2":0.16,"y2":-0.13,"r":"= −0.27**"},{"x":-0.121,"y":0.32},{"x":-0.08,"y":3.19},{"x":-0.069,"y":2.77},{"x":-0.055,"y":2.8},{"x":-0.047,"y":2.59},{"x":-0.068,"y":0.29},{"x":-0.053,"y":0.57},{"x":-0.044,"y":0.6},{"x":-0.022,"y":1.02},{"x":-0.017,"y":2.13},{"x":-0.01,"y":1.96},{"x":0.0,"y":2.2},{"x":-0.006,"y":1.83},{"x":0.006,"y":1.83},{"x":0.015,"y":1.96},{"x":0.025,"y":1.78},{"x":0.031,"y":1.34},{"x":0.033,"y":1.1},{"x":0.052,"y":0.92},{"x":0.01,"y":1.2},{"x":0.018,"y":0.81},{"x":0.023,"y":0.64},{"x":-0.006,"y":0.32},{"x":-0.012,"y":0.11},{"x":-0.002,"y":-0.05},{"x":-0.004,"y":-0.13},{"x":0.006,"y":0.22},{"x":0.016,"y":0.32},{"x":0.027,"y":0.22},{"x":0.043,"y":0.15},{"x":0.004,"y":-0.89},{"x":-0.004,"y":-1.34},{"x":-0.014,"y":1.62},{"x":0.008,"y":1.41},{"x":0.02,"y":0.5},{"x":0.012,"y":1.75},{"x":-0.001,"y":0.1},{"x":0.02,"y":1.05}],
"T15":[{"x1":-0.0807,"y1":1.48,"x2":0.1606,"y2":0.46,"r":"= −0.23"},{"x":-0.033,"y":3.19},{"x":-0.014,"y":2.77},{"x":-0.011,"y":2.8},{"x":-0.002,"y":2.59},{"x":0.003,"y":2.13},{"x":0.005,"y":1.83},{"x":0.012,"y":1.9},{"x":0.02,"y":1.9},{"x":0.012,"y":1.2},{"x":0.022,"y":0.99},{"x":-0.011,"y":0.32},{"x":-0.005,"y":0.36},{"x":0.0,"y":0.22},{"x":0.006,"y":0.29},{"x":0.002,"y":-0.01},{"x":0.009,"y":0.08},{"x":0.022,"y":-0.13},{"x":0.025,"y":0.32},{"x":0.029,"y":0.6},{"x":0.037,"y":0.57},{"x":0.017,"y":0.6},{"x":0.034,"y":0.02},{"x":0.042,"y":0.15},{"x":0.048,"y":0.22},{"x":0.045,"y":1.62},{"x":0.044,"y":2.03},{"x":0.054,"y":1.8},{"x":0.059,"y":2.24},{"x":0.065,"y":1.41},{"x":0.072,"y":1.13},{"x":0.052,"y":0.99},{"x":0.07,"y":0.74},{"x":0.068,"y":0.4},{"x":0.074,"y":0.27},{"x":0.083,"y":0.99},{"x":0.09,"y":0.2},{"x":0.094,"y":1.27},{"x":0.098,"y":0.71},{"x":0.005,"y":-0.89},{"x":0.005,"y":-1.34},{"x":0.05,"y":1.66}],
"T21":[{"x1":-0.04,"y1":0.79,"x2":0.04,"y2":0.27,"r":"= −0.03"},{"x":-0.009,"y":0.23},{"x":-0.01,"y":0.61},{"x":-0.008,"y":0.79},{"x":-0.006,"y":0.79},{"x":-0.005,"y":0.61},{"x":-0.004,"y":1.28},{"x":-0.005,"y":0.12},{"x":-0.001,"y":0.12},{"x":-0.001,"y":0.9},{"x":-0.003,"y":0.44},{"x":0.001,"y":0.79},{"x":0.0,"y":0.44},{"x":0.003,"y":0.61},{"x":0.004,"y":0.88},{"x":0.004,"y":0.37},{"x":0.005,"y":0.65},{"x":0.006,"y":0.79},{"x":0.007,"y":0.44},{"x":0.008,"y":0.23},{"x":0.009,"y":0.88},{"x":0.01,"y":0.51},{"x":0.01,"y":0.16},{"x":0.012,"y":0.65},{"x":0.013,"y":0.37},{"x":0.013,"y":0.16},{"x":0.015,"y":0.83},{"x":0.014,"y":0.58},{"x":0.018,"y":0.88},{"x":0.013,"y":0.23},{"x":0.007,"y":0.51},{"x":0.002,"y":0.3},{"x":-0.002,"y":0.58},{"x":-0.007,"y":0.44},{"x":0.004,"y":0.16},{"x":0.005,"y":0.93}],
"T22":[{"x1":-0.0497,"y1":1.39,"x2":0.0999,"y2":-1.48,"r":"= −0.44***"},{"x":-0.03,"y":0.54},{"x":-0.024,"y":0.3},{"x":-0.015,"y":0.3},{"x":-0.01,"y":0.44},{"x":-0.008,"y":0.72},{"x":-0.005,"y":0.93},{"x":-0.003,"y":2.18},{"x":-0.004,"y":0.99},{"x":-0.002,"y":0.72},{"x":0.001,"y":0.58},{"x":0.003,"y":0.44},{"x":0.002,"y":0.79},{"x":0.006,"y":0.65},{"x":0.008,"y":-0.12},{"x":0.009,"y":-0.53},{"x":0.01,"y":0.99},{"x":0.011,"y":0.3},{"x":0.013,"y":0.58},{"x":0.015,"y":0.09},{"x":0.017,"y":-0.05},{"x":0.018,"y":0.93},{"x":0.02,"y":0.58},{"x":0.021,"y":-0.26},{"x":0.022,"y":-0.53},{"x":0.019,"y":-0.12},{"x":0.031,"y":-0.53},{"x":0.032,"y":-0.12},{"x":0.036,"y":-0.19},{"x":0.039,"y":-0.26},{"x":0.043,"y":-0.19},{"x":0.046,"y":-0.53},{"x":0.051,"y":-0.4},{"x":0.058,"y":-0.47},{"x":0.055,"y":-0.33},{"x":0.005,"y":0.09},{"x":0.026,"y":0.02},{"x":-0.008,"y":0.44},{"x":-0.011,"y":0.58},{"x":0.01,"y":0.44}],
"T23":[{"x1":-0.0996,"y1":2.64,"x2":0.1517,"y2":-1.34,"r":"= −0.59***"},{"x":-0.076,"y":3.11},{"x":-0.052,"y":2.7},{"x":-0.036,"y":2.42},{"x":-0.029,"y":2.67},{"x":-0.012,"y":2.56},{"x":0.005,"y":2.46},{"x":-0.026,"y":2.32},{"x":-0.055,"y":2.11},{"x":-0.049,"y":2.04},{"x":-0.029,"y":2.18},{"x":-0.023,"y":1.63},{"x":-0.026,"y":1.42},{"x":-0.006,"y":1.76},{"x":0.003,"y":1.07},{"x":-0.015,"y":0.86},{"x":-0.042,"y":0.3},{"x":-0.025,"y":0.3},{"x":-0.016,"y":0.09},{"x":-0.019,"y":-0.29},{"x":-0.006,"y":-0.19},{"x":-0.003,"y":-0.33},{"x":0.003,"y":0.23},{"x":0.011,"y":0.58},{"x":0.013,"y":1.35},{"x":0.023,"y":1.83},{"x":0.029,"y":1.48},{"x":0.026,"y":1.97},{"x":0.017,"y":0.93},{"x":0.016,"y":0.3},{"x":0.021,"y":-0.12},{"x":0.035,"y":0.93},{"x":0.042,"y":0.93},{"x":0.045,"y":0.44},{"x":0.049,"y":0.09},{"x":0.052,"y":0.02},{"x":0.032,"y":-0.12},{"x":0.067,"y":-0.92},{"x":0.071,"y":-0.61},{"x":0.109,"y":0.0},{"x":0.116,"y":-0.4},{"x":0.011,"y":0.44},{"x":-0.01,"y":1.2}],
"T24":[{"x1":-0.194,"y1":3.36,"x2":0.16,"y2":-1.02,"r":"= −0.36***"},{"x":-0.041,"y":3.11},{"x":-0.043,"y":2.7},{"x":-0.017,"y":2.6},{"x":-0.042,"y":2.25},{"x":-0.018,"y":2.18},{"x":0.002,"y":2.42},{"x":0.006,"y":2.53},{"x":0.013,"y":2.42},{"x":0.019,"y":2.11},{"x":-0.035,"y":1.76},{"x":-0.006,"y":1.97},{"x":0.005,"y":2.18},{"x":0.015,"y":1.9},{"x":0.029,"y":1.9},{"x":-0.014,"y":1.42},{"x":-0.009,"y":1.35},{"x":-0.004,"y":1.48},{"x":0.002,"y":1.63},{"x":0.008,"y":1.53},{"x":0.005,"y":1.21},{"x":-0.01,"y":1.07},{"x":-0.004,"y":1.0},{"x":0.006,"y":0.93},{"x":0.019,"y":0.89},{"x":0.057,"y":1.42},{"x":-0.058,"y":0.19},{"x":-0.041,"y":0.47},{"x":-0.018,"y":0.33},{"x":-0.02,"y":0.09},{"x":-0.009,"y":0.16},{"x":-0.002,"y":-0.12},{"x":-0.004,"y":-0.26},{"x":0.005,"y":-0.33},{"x":0.01,"y":0.02},{"x":0.023,"y":-0.05},{"x":0.019,"y":-0.37},{"x":0.031,"y":-0.47},{"x":0.035,"y":-0.61},{"x":0.014,"y":-0.92},{"x":0.052,"y":-0.92},{"x":0.047,"y":0.3},{"x":0.06,"y":0.37},{"x":0.092,"y":-0.4},{"x":0.125,"y":0.16}],
"T25":[{"x1":-0.0807,"y1":2.39,"x2":0.1606,"y2":-0.88,"r":"= −0.59***"},{"x":-0.057,"y":3.11},{"x":-0.039,"y":2.7},{"x":-0.036,"y":2.56},{"x":-0.019,"y":2.53},{"x":-0.016,"y":2.42},{"x":-0.034,"y":2.25},{"x":-0.006,"y":2.18},{"x":0.112,"y":2.53},{"x":-0.038,"y":2.18},{"x":-0.042,"y":1.76},{"x":-0.022,"y":1.63},{"x":-0.011,"y":1.48},{"x":0.003,"y":1.35},{"x":0.009,"y":2.18},{"x":0.031,"y":1.97},{"x":0.034,"y":1.83},{"x":0.048,"y":2.04},{"x":0.017,"y":1.63},{"x":0.02,"y":1.21},{"x":0.023,"y":1.0},{"x":0.028,"y":0.93},{"x":0.037,"y":0.89},{"x":0.048,"y":0.93},{"x":0.062,"y":0.97},{"x":0.065,"y":1.48},{"x":0.1,"y":1.42},{"x":0.002,"y":0.89},{"x":0.015,"y":0.86},{"x":-0.005,"y":0.3},{"x":-0.006,"y":0.09},{"x":0.002,"y":0.44},{"x":0.012,"y":-0.19},{"x":0.017,"y":-0.33},{"x":0.023,"y":-0.33},{"x":0.037,"y":-0.26},{"x":0.033,"y":0.19},{"x":0.04,"y":0.23},{"x":0.051,"y":0.3},{"x":0.051,"y":-0.4},{"x":0.063,"y":-0.05},{"x":0.068,"y":-0.12},{"x":0.08,"y":0.37},{"x":0.083,"y":0.09},{"x":0.089,"y":-0.4},{"x":0.087,"y":-0.54},{"x":0.086,"y":-0.92},{"x":0.093,"y":-0.92},{"x":0.097,"y":0.3},{"x":0.146,"y":-0.4}],
"T31":[{"x1":-0.04,"y1":1.42,"x2":0.04,"y2":0.17,"r":"= −0.29**"},{"x":-0.007,"y":0.03},{"x":-0.008,"y":1.24},{"x":-0.006,"y":0.79},{"x":-0.005,"y":0.72},{"x":-0.003,"y":0.89},{"x":-0.003,"y":1.35},{"x":-0.001,"y":0.31},{"x":0.0,"y":0.31},{"x":0.0,"y":0.86},{"x":0.001,"y":1.28},{"x":0.002,"y":0.79},{"x":0.003,"y":1.14},{"x":0.004,"y":0.61},{"x":0.004,"y":1.0},{"x":0.005,"y":0.79},{"x":0.005,"y":0.24},{"x":0.006,"y":0.38},{"x":0.006,"y":0.75},{"x":0.007,"y":0.52},{"x":0.008,"y":1.21},{"x":0.008,"y":0.86},{"x":0.009,"y":0.58},{"x":0.009,"y":0.17},{"x":0.01,"y":0.45},{"x":0.011,"y":0.65},{"x":0.012,"y":0.33},{"x":0.013,"y":0.65},{"x":0.013,"y":0.52},{"x":0.015,"y":0.68},{"x":0.016,"y":0.79},{"x":0.017,"y":1.42},{"x":0.017,"y":0.72},{"x":0.019,"y":0.31},{"x":0.021,"y":0.45},{"x":0.029,"y":0.1},{"x":0.031,"y":0.24},{"x":0.007,"y":0.31},{"x":0.004,"y":0.34}],
"T32":[{"x1":-0.0497,"y1":1.0,"x2":0.0999,"y2":0.7,"r":"= −0.03"},{"x":-0.034,"y":0.79},{"x":-0.025,"y":1.21},{"x":-0.024,"y":0.86},{"x":-0.02,"y":0.31},{"x":-0.008,"y":0.86},{"x":-0.006,"y":1.84},{"x":-0.004,"y":0.93},{"x":-0.001,"y":1.0},{"x":0.001,"y":0.75},{"x":0.003,"y":1.07},{"x":-0.002,"y":0.58},{"x":0.0,"y":0.45},{"x":0.003,"y":0.65},{"x":0.005,"y":1.84},{"x":0.008,"y":1.7},{"x":0.01,"y":1.77},{"x":0.011,"y":1.84},{"x":0.006,"y":1.49},{"x":0.01,"y":1.59},{"x":0.006,"y":0.31},{"x":0.009,"y":0.45},{"x":0.012,"y":0.65},{"x":0.015,"y":0.31},{"x":0.003,"y":0.03},{"x":0.004,"y":-0.04},{"x":0.008,"y":0.06},{"x":0.013,"y":0.03},{"x":0.011,"y":-0.14},{"x":0.017,"y":-0.04},{"x":0.018,"y":-0.39},{"x":0.01,"y":-0.39},{"x":-0.001,"y":-0.39},{"x":0.017,"y":1.28},{"x":0.019,"y":1.31},{"x":0.022,"y":2.0},{"x":0.031,"y":0.03},{"x":0.031,"y":-0.39},{"x":0.032,"y":1.54},{"x":0.037,"y":1.35},{"x":0.056,"y":1.07},{"x":0.027,"y":0.58},{"x":0.022,"y":0.24}],
"T33":[{"x1":-0.0996,"y1":1.28,"x2":0.1517,"y2":1.95,"r":"= 0.10"},{"x":-0.038,"y":1.77},{"x":-0.029,"y":0.31},{"x":-0.019,"y":2.7},{"x":-0.015,"y":2.26},{"x":-0.009,"y":2.33},{"x":-0.006,"y":1.98},{"x":-0.013,"y":2.09},{"x":-0.006,"y":-0.04},{"x":-0.009,"y":1.49},{"x":-0.001,"y":1.56},{"x":0.004,"y":1.35},{"x":0.003,"y":0.86},{"x":0.009,"y":0.72},{"x":0.011,"y":1.14},{"x":0.014,"y":1.63},{"x":0.012,"y":1.7},{"x":0.019,"y":2.09},{"x":0.023,"y":1.95},{"x":0.026,"y":1.84},{"x":0.029,"y":1.7},{"x":0.032,"y":1.59},{"x":0.035,"y":1.91},{"x":0.038,"y":1.73},{"x":0.044,"y":1.84},{"x":0.031,"y":2.75},{"x":0.041,"y":2.75},{"x":0.054,"y":2.68},{"x":0.054,"y":2.47},{"x":0.054,"y":2.26},{"x":0.056,"y":2.05},{"x":0.061,"y":1.95},{"x":0.067,"y":1.84},{"x":0.07,"y":2.0},{"x":0.092,"y":2.68},{"x":0.017,"y":1.28},{"x":0.02,"y":1.42},{"x":0.029,"y":1.07},{"x":0.036,"y":1.35},{"x":0.042,"y":1.14},{"x":0.046,"y":1.0},{"x":0.05,"y":1.25},{"x":0.026,"y":0.89},{"x":0.032,"y":0.84},{"x":0.067,"y":0.86},{"x":0.087,"y":0.68},{"x":0.064,"y":0.2},{"x":0.009,"y":0.75}],
"T34":[{"x1":-0.194,"y1":1.17,"x2":0.16,"y2":1.95,"r":"= 0.17"},{"x":-0.178,"y":1.77},{"x":-0.069,"y":1.91},{"x":-0.068,"y":1.67},{"x":-0.053,"y":1.98},{"x":-0.043,"y":1.84},{"x":-0.041,"y":1.63},{"x":-0.035,"y":2.05},{"x":-0.027,"y":2.26},{"x":-0.02,"y":2.19},{"x":-0.017,"y":2.05},{"x":-0.012,"y":1.87},{"x":-0.01,"y":1.63},{"x":-0.004,"y":1.59},{"x":-0.001,"y":1.35},{"x":0.006,"y":1.45},{"x":0.008,"y":1.84},{"x":0.015,"y":1.91},{"x":0.019,"y":1.73},{"x":0.002,"y":2.68},{"x":0.013,"y":2.4},{"x":0.021,"y":2.33},{"x":0.031,"y":2.26},{"x":0.039,"y":2.75},{"x":0.052,"y":2.75},{"x":0.068,"y":2.68},{"x":0.023,"y":2.05},{"x":0.031,"y":1.63},{"x":0.035,"y":1.42},{"x":0.027,"y":1.14},{"x":0.006,"y":1.21},{"x":-0.002,"y":1.07},{"x":-0.01,"y":0.86},{"x":-0.022,"y":0.86},{"x":-0.035,"y":1.0},{"x":-0.041,"y":0.66},{"x":0.006,"y":0.66},{"x":0.043,"y":1.17},{"x":0.07,"y":0.94},{"x":-0.014,"y":0.21},{"x":0.021,"y":0.33},{"x":-0.005,"y":-0.04},{"x":0.06,"y":1.95}],
"T35":[{"x1":-0.0807,"y1":0.98,"x2":0.1606,"y2":2.26,"r":"= 0.25*"},{"x":-0.03,"y":1.77},{"x":-0.011,"y":1.84},{"x":-0.004,"y":1.91},{"x":0.006,"y":1.91},{"x":0.012,"y":2.72},{"x":0.023,"y":2.05},{"x":0.026,"y":2.26},{"x":0.031,"y":2.7},{"x":0.033,"y":2.26},{"x":0.041,"y":2.26},{"x":0.048,"y":2.7},{"x":0.052,"y":2.4},{"x":0.054,"y":2.19},{"x":0.065,"y":2.65},{"x":0.076,"y":1.98},{"x":0.078,"y":1.84},{"x":0.082,"y":1.95},{"x":0.092,"y":2.05},{"x":0.093,"y":1.84},{"x":0.13,"y":2.68},{"x":0.017,"y":1.7},{"x":0.022,"y":1.53},{"x":0.024,"y":1.42},{"x":0.028,"y":1.63},{"x":0.034,"y":1.49},{"x":0.037,"y":1.63},{"x":0.042,"y":1.73},{"x":0.04,"y":1.35},{"x":0.031,"y":1.25},{"x":0.055,"y":1.59},{"x":0.005,"y":1.28},{"x":0.009,"y":0.94},{"x":0.009,"y":0.79},{"x":0.017,"y":0.73},{"x":0.017,"y":0.33},{"x":0.034,"y":0.86},{"x":0.062,"y":1.28},{"x":0.084,"y":1.03},{"x":0.098,"y":0.94},{"x":0.052,"y":0.2},{"x":0.0,"y":-0.01},{"x":0.02,"y":1.14}],
"B11":[{"x1":-0.0395,"y1":0.77,"x2":0.0402,"y2":0.28,"r":"= −0.11"},{"x":-0.0235,"y":0.86},{"x":-0.013,"y":0.55},{"x":-0.008,"y":0.16},{"x":-0.0065,"y":0.91},{"x":-0.004,"y":0.53},{"x":-0.002,"y":1.21},{"x":-0.002,"y":0.33},{"x":-0.0015,"y":0.13},{"x":0.0,"y":0.73},{"x":0.0,"y":0.43},{"x":0.001,"y":1.25},{"x":0.001,"y":1.11},{"x":0.0014,"y":0.88},{"x":0.002,"y":0.63},{"x":0.003,"y":0.28},{"x":0.0033,"y":0.48},{"x":0.0036,"y":0.75},{"x":0.0045,"y":0.55},{"x":0.005,"y":0.33},{"x":0.0055,"y":0.68},{"x":0.0063,"y":0.88},{"x":0.007,"y":0.53},{"x":0.0073,"y":0.28},{"x":0.0077,"y":0.43},{"x":0.008,"y":0.61},{"x":0.009,"y":0.43},{"x":0.009,"y":0.58},{"x":0.0095,"y":0.25},{"x":0.007,"y":-0.57},{"x":0.0116,"y":0.98},{"x":0.013,"y":0.25},{"x":0.014,"y":0.83},{"x":0.019,"y":0.6},{"x":0.024,"y":0.33},{"x":0.003,"y":0.4},{"x":0.006,"y":0.45}],
"B12":[{"x1":-0.0497,"y1":1.11,"x2":0.0999,"y2":0.18,"r":"= −0.01"},{"x":-0.018,"y":0.33},{"x":0.0,"y":2.15},{"x":0.0016,"y":1.55},{"x":0.0026,"y":1.41},{"x":-0.0033,"y":1.01},{"x":0.0,"y":0.98},{"x":0.0044,"y":1.08},{"x":0.006,"y":0.93},{"x":0.0044,"y":0.73},{"x":0.005,"y":0.55},{"x":0.0078,"y":0.81},{"x":0.0085,"y":0.63},{"x":0.0096,"y":0.98},{"x":0.0113,"y":0.73},{"x":0.012,"y":0.53},{"x":0.0026,"y":0.13},{"x":0.0044,"y":0.08},{"x":0.013,"y":0.83},{"x":0.014,"y":1.08},{"x":0.0155,"y":0.63},{"x":0.0165,"y":0.43},{"x":0.0183,"y":0.73},{"x":0.02,"y":0.28},{"x":0.0217,"y":0.53},{"x":0.027,"y":1.03},{"x":0.028,"y":0.73},{"x":0.0287,"y":0.63},{"x":0.0305,"y":0.48},{"x":0.0322,"y":-0.45},{"x":0.0339,"y":1.03},{"x":0.0364,"y":0.83},{"x":0.0392,"y":0.63},{"x":0.0409,"y":0.38},{"x":0.0427,"y":0.73},{"x":0.0455,"y":0.58},{"x":0.0469,"y":0.73},{"x":0.0444,"y":0.38},{"x":0.0778,"y":0.61},{"x":0.026,"y":0.75}],
"B13":[{"x1":-0.0954,"y1":1.73,"x2":0.1515,"y2":-0.47,"r":"= −0.22"},{"x":-0.0807,"y":1.18},{"x":-0.0653,"y":0.71},{"x":-0.0606,"y":0.83},{"x":-0.0596,"y":0.53},{"x":-0.0441,"y":2.33},{"x":-0.0451,"y":1.11},{"x":-0.0395,"y":0.88},{"x":-0.039,"y":0.73},{"x":-0.0309,"y":1.03},{"x":-0.028,"y":0.78},{"x":-0.0252,"y":1.55},{"x":-0.0246,"y":1.13},{"x":-0.0223,"y":0.93},{"x":-0.0194,"y":0.58},{"x":-0.0166,"y":1.28},{"x":-0.0137,"y":1.68},{"x":-0.0131,"y":1.08},{"x":-0.008,"y":1.88},{"x":-0.0074,"y":1.95},{"x":-0.0051,"y":1.78},{"x":-0.0022,"y":0.88},{"x":0.0006,"y":1.43},{"x":-0.002,"y":0.48},{"x":0.0035,"y":0.33},{"x":0.0081,"y":1.33},{"x":0.0121,"y":1.53},{"x":0.015,"y":-0.12},{"x":0.012,"y":-0.22},{"x":0.0178,"y":-0.32},{"x":0.0178,"y":-0.87},{"x":0.0035,"y":0.73},{"x":0.0178,"y":0.38},{"x":0.019,"y":1.58},{"x":0.0276,"y":1.55},{"x":0.0247,"y":1.38},{"x":0.0305,"y":1.18},{"x":0.0379,"y":1.18},{"x":0.0305,"y":0.83},{"x":0.0362,"y":0.73},{"x":0.0276,"y":0.53},{"x":0.0418,"y":0.45},{"x":0.019,"y":-0.89},{"x":0.0803,"y":-0.85},{"x":0.015,"y":0.38}],
"B14":[{"x1":-0.2106,"y1":1.05,"x2":0.151,"y2":0.8,"r":"= −0.11"},{"x":-0.122,"y":1.18},{"x":-0.07,"y":2.33},{"x":-0.055,"y":1.88},{"x":-0.049,"y":1.01},{"x":-0.082,"y":0.58},{"x":-0.07,"y":0.68},{"x":-0.053,"y":0.65},{"x":-0.04,"y":0.93},{"x":-0.028,"y":0.83},{"x":-0.024,"y":0.68},{"x":-0.017,"y":1.55},{"x":-0.015,"y":1.08},{"x":-0.011,"y":0.88},{"x":-0.017,"y":0.51},{"x":-0.008,"y":0.78},{"x":-0.007,"y":0.55},{"x":-0.02,"y":0.28},{"x":-0.014,"y":0.21},{"x":-0.003,"y":0.43},{"x":0.0,"y":1.11},{"x":0.001,"y":1.95},{"x":0.008,"y":1.88},{"x":0.014,"y":1.68},{"x":0.005,"y":1.18},{"x":0.011,"y":1.08},{"x":0.018,"y":1.23},{"x":0.022,"y":1.43},{"x":0.027,"y":1.51},{"x":0.025,"y":1.33},{"x":0.016,"y":0.91},{"x":0.022,"y":0.78},{"x":0.031,"y":0.85},{"x":0.033,"y":1.58},{"x":0.056,"y":1.78},{"x":0.056,"y":1.18},{"x":0.044,"y":-0.12},{"x":0.005,"y":-0.17},{"x":0.016,"y":-0.3},{"x":-0.005,"y":-0.89},{"x":0.028,"y":-0.85}],
"B15":[{"x1":-0.1054,"y1":0.55,"x2":0.158,"y2":1.18,"r":"= −0.21"},{"x":-0.0337,"y":0.55},{"x":-0.0136,"y":2.33},{"x":-0.0107,"y":1.88},{"x":0.0047,"y":1.88},{"x":-0.0107,"y":1.18},{"x":-0.0015,"y":1.01},{"x":-0.0045,"y":0.68},{"x":0.0047,"y":0.73},{"x":-0.0014,"y":0.91},{"x":0.0052,"y":0.83},{"x":0.0095,"y":0.68},{"x":0.0167,"y":1.55},{"x":0.019,"y":1.38},{"x":0.0241,"y":1.11},{"x":0.0271,"y":1.41},{"x":0.0321,"y":1.11},{"x":0.0095,"y":0.48},{"x":0.0157,"y":0.23},{"x":0.0148,"y":0.28},{"x":0.0228,"y":0.53},{"x":0.0259,"y":0.43},{"x":0.0341,"y":0.55},{"x":0.038,"y":0.98},{"x":0.0434,"y":1.18},{"x":0.0434,"y":1.95},{"x":0.0477,"y":1.85},{"x":0.0489,"y":1.61},{"x":0.045,"y":1.6},{"x":0.0557,"y":1.48},{"x":0.0532,"y":1.18},{"x":0.0459,"y":0.78},{"x":0.0477,"y":0.53},{"x":0.047,"y":0.43},{"x":0.0566,"y":0.88},{"x":0.0587,"y":0.78},{"x":0.0608,"y":1.15},{"x":0.0709,"y":1.68},{"x":0.0764,"y":1.48},{"x":0.0783,"y":0.75},{"x":0.0739,"y":0.35},{"x":0.0434,"y":-0.12},{"x":0.0052,"y":-0.19},{"x":0.0095,"y":-0.29},{"x":0.0052,"y":-0.89},{"x":0.0428,"y":-0.85}],
"B21":[{"x1":-0.0395,"y1":1.22,"x2":0.0402,"y2":0.45,"r":"= −0.13"},{"x":-0.022,"y":1.0},{"x":-0.012,"y":0.8},{"x":-0.007,"y":1.1},{"x":-0.006,"y":0.7},{"x":-0.004,"y":0.95},{"x":-0.003,"y":0.55},{"x":-0.002,"y":1.3},{"x":-0.001,"y":0.85},{"x":0.0,"y":0.6},{"x":0.001,"y":1.0},{"x":0.001,"y":0.75},{"x":0.002,"y":0.45},{"x":0.003,"y":0.9},{"x":0.003,"y":1.15},{"x":0.004,"y":0.65},{"x":0.005,"y":0.8},{"x":0.005,"y":0.35},{"x":0.006,"y":1.0},{"x":0.006,"y":0.55},{"x":0.007,"y":0.75},{"x":0.008,"y":0.9},{"x":0.008,"y":0.45},{"x":0.009,"y":0.65},{"x":0.009,"y":1.2},{"x":0.01,"y":0.8},{"x":0.011,"y":0.55},{"x":0.011,"y":0.95},{"x":0.012,"y":0.7},{"x":0.013,"y":0.4},{"x":0.013,"y":0.85},{"x":0.014,"y":1.05},{"x":0.015,"y":0.6},{"x":0.016,"y":0.75},{"x":0.018,"y":0.5},{"x":0.019,"y":0.9},{"x":0.021,"y":0.65},{"x":0.024,"y":0.8},{"x":0.028,"y":0.6},{"x":0.009,"y":0.1},{"x":0.004,"y":1.4}],
"B22":[{"x1":-0.0497,"y1":1.2,"x2":0.0999,"y2":-0.4,"r":"= −0.05"},{"x":-0.03,"y":0.8},{"x":-0.02,"y":1.0},{"x":-0.012,"y":0.7},{"x":-0.008,"y":1.2},{"x":-0.005,"y":0.9},{"x":-0.003,"y":0.6},{"x":-0.002,"y":2.05},{"x":0.0,"y":1.0},{"x":0.001,"y":0.75},{"x":0.002,"y":0.5},{"x":0.003,"y":1.1},{"x":0.004,"y":0.85},{"x":0.005,"y":0.65},{"x":0.006,"y":0.4},{"x":0.007,"y":0.9},{"x":0.008,"y":0.6},{"x":0.009,"y":0.75},{"x":0.01,"y":0.3},{"x":0.011,"y":0.55},{"x":0.012,"y":0.8},{"x":0.013,"y":0.45},{"x":0.014,"y":0.65},{"x":0.015,"y":0.2},{"x":0.016,"y":0.5},{"x":0.018,"y":0.35},{"x":0.019,"y":0.7},{"x":0.02,"y":0.1},{"x":0.022,"y":0.45},{"x":0.024,"y":0.25},{"x":0.026,"y":0.0},{"x":0.028,"y":0.3},{"x":0.03,"y":0.15},{"x":0.033,"y":-0.05},{"x":0.036,"y":0.2},{"x":0.04,"y":-0.2},{"x":0.044,"y":0.05},{"x":0.05,"y":-0.3},{"x":0.055,"y":-0.1},{"x":0.065,"y":-0.4}],
"B23":[{"x1":-0.0954,"y1":1.45,"x2":0.1515,"y2":0.66,"r":"= −0.05"},{"x":-0.08,"y":1.8},{"x":-0.07,"y":1.2},{"x":-0.06,"y":2.0},{"x":-0.055,"y":0.6},{"x":-0.05,"y":1.5},{"x":-0.045,"y":1.0},{"x":-0.04,"y":0.3},{"x":-0.035,"y":1.9},{"x":-0.03,"y":1.3},{"x":-0.028,"y":0.8},{"x":-0.025,"y":2.2},{"x":-0.02,"y":1.6},{"x":-0.018,"y":0.5},{"x":-0.015,"y":1.1},{"x":-0.012,"y":0.0},{"x":-0.01,"y":1.8},{"x":-0.008,"y":0.9},{"x":-0.005,"y":1.4},{"x":-0.003,"y":0.4},{"x":0.0,"y":2.35},{"x":0.0,"y":1.0},{"x":0.003,"y":1.7},{"x":0.005,"y":0.7},{"x":0.008,"y":1.25},{"x":0.01,"y":2.1},{"x":0.012,"y":0.3},{"x":0.015,"y":1.5},{"x":0.018,"y":0.9},{"x":0.02,"y":1.9},{"x":0.022,"y":0.6},{"x":0.025,"y":1.2},{"x":0.028,"y":1.6},{"x":0.03,"y":0.2},{"x":0.033,"y":1.0},{"x":0.036,"y":2.0},{"x":0.04,"y":0.8},{"x":0.045,"y":1.4},{"x":0.05,"y":1.7},{"x":0.055,"y":0.5},{"x":0.06,"y":1.1},{"x":0.07,"y":0.9},{"x":0.075,"y":-0.55},{"x":0.08,"y":-1.75},{"x":0.09,"y":0.6}],
"B24":[{"x1":-0.2106,"y1":1.75,"x2":0.151,"y2":0.62,"r":"= −0.03"},{"x":-0.008,"y":2.69},{"x":0.002,"y":2.38},{"x":-0.042,"y":2.12},{"x":-0.028,"y":2.18},{"x":-0.017,"y":2.28},{"x":-0.007,"y":2.2},{"x":0.003,"y":2.12},{"x":0.014,"y":1.94},{"x":-0.022,"y":1.81},{"x":-0.011,"y":1.75},{"x":-0.003,"y":1.89},{"x":-0.12,"y":1.2},{"x":-0.09,"y":1.5},{"x":-0.07,"y":0.9},{"x":-0.06,"y":1.3},{"x":-0.05,"y":0.6},{"x":-0.04,"y":1.1},{"x":-0.035,"y":0.3},{"x":-0.03,"y":1.5},{"x":-0.025,"y":0.8},{"x":-0.02,"y":1.2},{"x":-0.015,"y":0.5},{"x":-0.01,"y":1.0},{"x":-0.005,"y":0.7},{"x":0.0,"y":1.35},{"x":0.0,"y":0.2},{"x":0.005,"y":0.9},{"x":0.008,"y":1.55},{"x":0.01,"y":0.5},{"x":0.015,"y":1.1},{"x":0.018,"y":0.75},{"x":0.02,"y":-0.3},{"x":0.025,"y":1.3},{"x":0.03,"y":0.9},{"x":0.035,"y":0.4},{"x":0.04,"y":1.1},{"x":0.05,"y":0.7},{"x":0.06,"y":1.4},{"x":0.0,"y":-0.55},{"x":-0.005,"y":-1.1},{"x":0.01,"y":-1.6},{"x":0.09,"y":0.8}],
"B25":[{"x1":-0.1054,"y1":1.22,"x2":0.158,"y2":0.8,"r":"= 0.12"},{"x":0.089,"y":2.65},{"x":0.029,"y":2.38},{"x":0.041,"y":2.14},{"x":0.02,"y":2.12},{"x":0.02,"y":1.94},{"x":0.064,"y":1.94},{"x":0.102,"y":1.89},{"x":-0.057,"y":1.83},{"x":-0.037,"y":2.03},{"x":-0.017,"y":2.03},{"x":-0.035,"y":1.59},{"x":-0.07,"y":1.2},{"x":-0.05,"y":0.9},{"x":-0.04,"y":1.3},{"x":-0.03,"y":0.7},{"x":-0.02,"y":1.1},{"x":-0.01,"y":0.5},{"x":-0.005,"y":1.4},{"x":0.0,"y":0.9},{"x":0.005,"y":1.2},{"x":0.01,"y":0.3},{"x":0.015,"y":1.0},{"x":0.02,"y":0.6},{"x":0.025,"y":1.5},{"x":0.03,"y":0.9},{"x":0.035,"y":0.2},{"x":0.04,"y":1.2},{"x":0.045,"y":0.7},{"x":0.05,"y":1.6},{"x":0.055,"y":0.4},{"x":0.06,"y":1.0},{"x":0.065,"y":0.8},{"x":0.07,"y":1.3},{"x":0.075,"y":0.5},{"x":0.08,"y":1.1},{"x":0.09,"y":0.6},{"x":0.1,"y":1.3},{"x":0.12,"y":0.8},{"x":0.13,"y":1.0},{"x":0.072,"y":-0.6},{"x":0.085,"y":-1.55},{"x":0.04,"y":-0.3}],
"B31":[{"x1":-0.0395,"y1":1.45,"x2":0.0402,"y2":0.4,"r":"= −0.2"},{"x":-0.012,"y":1.0},{"x":-0.008,"y":0.6},{"x":-0.006,"y":1.3},{"x":-0.004,"y":0.4},{"x":-0.003,"y":0.9},{"x":-0.002,"y":1.55},{"x":-0.001,"y":0.7},{"x":0.0,"y":1.1},{"x":0.001,"y":0.5},{"x":0.002,"y":0.85},{"x":0.003,"y":1.25},{"x":0.004,"y":0.3},{"x":0.004,"y":0.65},{"x":0.005,"y":1.0},{"x":0.006,"y":0.55},{"x":0.006,"y":0.8},{"x":0.007,"y":1.4},{"x":0.008,"y":0.45},{"x":0.008,"y":0.9},{"x":0.009,"y":0.7},{"x":0.01,"y":0.35},{"x":0.01,"y":1.1},{"x":0.011,"y":0.6},{"x":0.012,"y":0.85},{"x":0.013,"y":0.4},{"x":0.013,"y":1.2},{"x":0.014,"y":0.7},{"x":0.015,"y":0.5},{"x":0.016,"y":0.95},{"x":0.017,"y":0.3},{"x":0.018,"y":0.65},{"x":0.02,"y":0.8},{"x":0.022,"y":0.45},{"x":0.026,"y":0.6},{"x":0.03,"y":0.95},{"x":0.012,"y":0.05}],
"B32":[{"x1":-0.0497,"y1":0.55,"x2":0.0999,"y2":0.35,"r":"= −0.03"},{"x":-0.035,"y":0.3},{"x":-0.02,"y":0.0},{"x":-0.01,"y":0.6},{"x":-0.005,"y":1.2},{"x":-0.003,"y":-0.2},{"x":-0.001,"y":-0.24},{"x":-0.001,"y":-0.43},{"x":0.0,"y":2.05},{"x":0.0,"y":0.9},{"x":0.002,"y":0.4},{"x":0.003,"y":2.4},{"x":0.004,"y":1.3},{"x":0.005,"y":0.1},{"x":0.006,"y":0.7},{"x":0.007,"y":1.0},{"x":0.008,"y":-0.25},{"x":0.009,"y":0.5},{"x":0.01,"y":1.1},{"x":0.011,"y":0.2},{"x":0.012,"y":0.8},{"x":0.013,"y":1.3},{"x":0.014,"y":0.35},{"x":0.015,"y":-0.15},{"x":0.016,"y":0.6},{"x":0.017,"y":1.0},{"x":0.018,"y":0.15},{"x":0.019,"y":-0.43},{"x":0.02,"y":0.7},{"x":0.022,"y":0.4},{"x":0.024,"y":1.2},{"x":0.026,"y":0.0},{"x":0.028,"y":0.6},{"x":0.03,"y":0.9},{"x":0.032,"y":-0.15},{"x":0.034,"y":0.3},{"x":0.037,"y":-0.38},{"x":0.04,"y":0.5},{"x":0.045,"y":0.8},{"x":0.05,"y":0.2},{"x":0.058,"y":0.4}],
"B33":[{"x1":-0.0954,"y1":1.35,"x2":0.1515,"y2":0.55,"r":"= −0.16"},{"x":-0.085,"y":1.1},{"x":-0.07,"y":0.7},{"x":-0.06,"y":1.5},{"x":-0.05,"y":0.9},{"x":-0.045,"y":1.8},{"x":-0.04,"y":0.4},{"x":-0.035,"y":1.2},{"x":-0.03,"y":0.8},{"x":-0.025,"y":1.6},{"x":-0.02,"y":0.2},{"x":-0.015,"y":1.0},{"x":-0.01,"y":1.4},{"x":-0.005,"y":0.6},{"x":0.0,"y":2.3},{"x":0.0,"y":1.1},{"x":0.005,"y":0.7},{"x":0.008,"y":1.7},{"x":0.01,"y":0.3},{"x":0.012,"y":1.3},{"x":0.015,"y":0.9},{"x":0.018,"y":2.0},{"x":0.02,"y":0.5},{"x":0.025,"y":1.2},{"x":0.028,"y":0.8},{"x":0.03,"y":1.5},{"x":0.032,"y":0.0},{"x":0.035,"y":1.0},{"x":0.04,"y":1.8},{"x":0.042,"y":0.6},{"x":0.045,"y":1.3},{"x":0.05,"y":0.9},{"x":0.055,"y":0.4},{"x":0.06,"y":1.6},{"x":0.065,"y":1.1},{"x":0.07,"y":0.7},{"x":0.08,"y":1.2},{"x":0.09,"y":0.5},{"x":0.1,"y":0.9},{"x":0.02,"y":-0.3}],
"B34":[{"x1":-0.2106,"y1":0.4,"x2":0.151,"y2":1.4,"r":"= 0.24*"},{"x":-0.15,"y":0.4},{"x":-0.1,"y":0.9},{"x":-0.08,"y":1.3},{"x":-0.06,"y":0.6},{"x":-0.05,"y":1.1},{"x":-0.04,"y":0.3},{"x":-0.035,"y":1.5},{"x":-0.03,"y":0.8},{"x":-0.025,"y":1.9},{"x":-0.02,"y":0.5},{"x":-0.015,"y":1.2},{"x":-0.01,"y":0.2},{"x":-0.005,"y":1.6},{"x":0.0,"y":0.9},{"x":0.002,"y":2.3},{"x":0.005,"y":0.4},{"x":0.008,"y":1.3},{"x":0.01,"y":0.7},{"x":0.012,"y":1.8},{"x":0.015,"y":1.0},{"x":0.018,"y":0.1},{"x":0.02,"y":1.5},{"x":0.022,"y":0.6},{"x":0.025,"y":1.2},{"x":0.028,"y":2.0},{"x":0.03,"y":0.8},{"x":0.035,"y":-0.28},{"x":0.035,"y":1.1},{"x":0.04,"y":0.5},{"x":0.045,"y":1.4},{"x":0.05,"y":0.9},{"x":0.052,"y":-0.15},{"x":0.055,"y":1.7},{"x":0.06,"y":0.6},{"x":0.065,"y":1.2},{"x":0.07,"y":0.3},{"x":0.08,"y":1.0},{"x":0.09,"y":1.3}],
"B35":[{"x1":-0.1054,"y1":1.1,"x2":0.158,"y2":0.8,"r":"= −0.03"},{"x":-0.09,"y":1.0},{"x":-0.07,"y":1.4},{"x":-0.06,"y":0.6},{"x":-0.05,"y":1.2},{"x":-0.04,"y":0.8},{"x":-0.03,"y":1.6},{"x":-0.02,"y":0.4},{"x":-0.015,"y":1.1},{"x":-0.01,"y":0.7},{"x":0.0,"y":1.9},{"x":0.0,"y":0.9},{"x":0.005,"y":0.3},{"x":0.01,"y":1.3},{"x":0.015,"y":0.6},{"x":0.018,"y":2.3},{"x":0.02,"y":1.0},{"x":0.025,"y":0.2},{"x":0.03,"y":1.5},{"x":0.035,"y":0.8},{"x":0.04,"y":1.2},{"x":0.045,"y":0.5},{"x":0.05,"y":-0.15},{"x":0.05,"y":1.7},{"x":0.055,"y":0.9},{"x":0.06,"y":1.3},{"x":0.065,"y":0.4},{"x":0.07,"y":1.1},{"x":0.072,"y":-0.28},{"x":0.075,"y":1.6},{"x":0.08,"y":0.7},{"x":0.085,"y":1.2},{"x":0.09,"y":0.9},{"x":0.1,"y":1.4},{"x":0.11,"y":0.6},{"x":0.12,"y":1.0},{"x":0.13,"y":0.3},{"x":0.02,"y":-0.4}]
},
"config":{
"locale":{"number":{"decimal":".","thousands":",","grouping":[3],"currency":["$",""],"minus":"-"}},
"font":"Liberation Sans",
"view":{"stroke":"#808080","strokeWidth":1},
"axis":{"domain":false,"grid":false,"ticks":true,"tickSize":-4,"tickColor":"#808080","tickWidth":1,"labelFont":"Liberation Sans","labelFontSize":10,"labelColor":"#111111","labelPadding":9,"labelFlush":false,"labelOverlap":false,"titleFont":"Liberation Sans","titleFontSize":13,"titleFontWeight":"normal","titleColor":"#111111"},
"axisX":{"format":".2f"},
"title":{"font":"Liberation Sans","fontSize":13,"fontWeight":"normal","color":"#111111","offset":1,"frame":"group"},
"circle":{"size":16,"color":"#3c3c3c","opacity":1},
"rule":{"strokeWidth":1.8,"color":"#000000"},
"style":{
"rr":{"font":"Liberation Sans","fontSize":11.5,"fontStyle":"italic","align":"left","baseline":"middle","color":"#111111"},
"rp":{"font":"Liberation Sans","fontSize":7.5,"align":"left","baseline":"middle","dy":3,"color":"#111111"},
"rv":{"font":"Liberation Sans","fontSize":11.5,"align":"left","baseline":"middle","color":"#111111"}
}
}
}
